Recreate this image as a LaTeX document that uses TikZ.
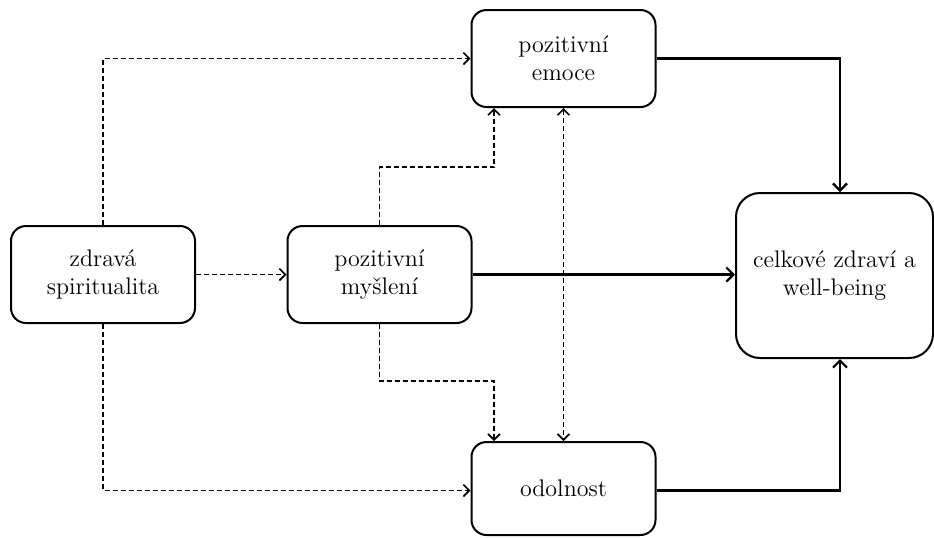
\documentclass[tikz,border=0pt]{standalone}
\usetikzlibrary{positioning,calc,arrows.meta}

\tikzset{
  box/.style={draw, line width=1pt, rounded corners=7.5pt, align=center,
    minimum width=92pt, minimum height=48.5pt, inner sep=2pt,
    font=\rmfamily\fontsize{12}{14}\selectfont},
  dline/.style={line width=0.8pt, dash pattern=on 2.5pt off 1.5pt,
    -{Straight Barb[length=3pt,width=6pt]}},
  sline/.style={line width=1.1pt, -{Straight Barb[length=3.5pt,width=7pt]}},
}

\begin{document}
\begin{tikzpicture}[x=0.5pt, y=-0.5pt]
  \useasboundingbox (0,0) rectangle (934,537);

  % boxes
  \node[box] (spirit) at (103,274.5) {zdravá\\spiritualita};
  \node[box] (mysleni) at (379.5,274.5) {pozitivní\\myšlení};
  \node[box] (emoce) at (563.5,58.5) {pozitivní\\emoce};
  \node[box, minimum height=46.5pt] (odolnost) at (563.5,488.5) {odolnost};
  \node[box, minimum width=98.5pt, minimum height=82.5pt, rounded corners=12pt]
    (zdravi) at (834.5,275.5) {celkové zdraví a\\well-being};

  % helper points
  \coordinate (up) at (494,167);
  \coordinate (down) at (494,381);
  \coordinate (col) at (840,0);

  % dashed links
  \draw[dline] (spirit) -- (mysleni);
  \draw[dline] (spirit.north) |- (emoce.west);
  \draw[dline] (spirit.south) |- ([yshift=-1pt]odolnost.west);
  \draw[dline] (mysleni.north) |- (up) -- (up |- emoce.south);
  \draw[dline] (mysleni.south) |- (down) -- (down |- odolnost.north);
  \draw[dline, {Straight Barb[length=3pt,width=6pt]}-{Straight Barb[length=3pt,width=6pt]}]
    (emoce.south) -- (odolnost.north);

  % solid links
  \draw[sline] (mysleni.east) -- (mysleni.east -| zdravi.west);
  \draw[sline] (emoce.east) -| (col |- zdravi.north);
  \draw[sline] ([yshift=-1pt]odolnost.east) -| (col |- zdravi.south);
\end{tikzpicture}
\end{document}
